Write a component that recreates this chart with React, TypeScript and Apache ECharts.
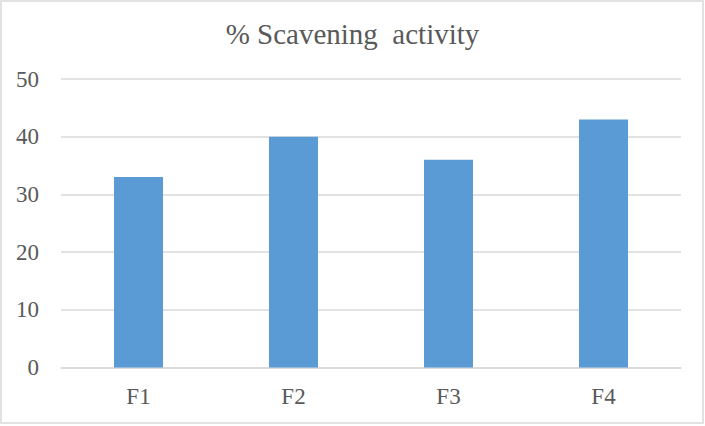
import React, { useEffect, useRef } from "react";
import * as echarts from "echarts";

const categories = ["F1", "F2", "F3", "F4"];
const values = [33, 40, 36, 43];
const yTicks = { min: 0, max: 50, interval: 10 };
const titleText = "% Scavening  activity";

export default function App() {
  const ref = useRef<HTMLDivElement>(null);
  useEffect(() => {
    document.body.style.margin = "0";
    const chart = echarts.init(ref.current!, null, { renderer: "svg" });
    const font = "'Liberation Serif', 'Times New Roman', serif";
    chart.setOption({
      animation: false,
      backgroundColor: "#ffffff",
      title: {
        text: titleText,
        left: "center",
        top: 14,
        textStyle: { fontFamily: font, fontSize: 29, fontWeight: "normal", color: "#595959" },
      },
      graphic: [
        {
          type: "rect",
          shape: { x: 1, y: 1, width: 702, height: 422 },
          style: { fill: "none", stroke: "#D9D9D9", lineWidth: 1.5 },
          silent: true,
        },
      ],
      grid: { left: 61, right: 24, top: 79, bottom: 58.5, containLabel: false },
      xAxis: {
        type: "category",
        data: categories,
        axisLine: { show: true, lineStyle: { color: "#D9D9D9", width: 1.5 } },
        axisTick: { show: false },
        axisLabel: { fontFamily: font, fontSize: 23, color: "#595959", margin: 17 },
      },
      yAxis: {
        type: "value",
        min: yTicks.min,
        max: yTicks.max,
        interval: yTicks.interval,
        axisLine: { show: false },
        axisTick: { show: false },
        splitLine: { lineStyle: { color: "#D9D9D9", width: 1.5 } },
        axisLabel: { fontFamily: font, fontSize: 23, color: "#595959", margin: 22 },
      },
      series: [
        {
          type: "bar",
          data: values,
          barWidth: "31.6%",
          itemStyle: { color: "#5B9BD5" },
        },
      ],
    });
    return () => chart.dispose();
  }, []);
  return (
    <div
      ref={ref}
      style={{ position: "absolute", left: 0, top: 0, width: 705, height: 426 }}
    />
  );
}
